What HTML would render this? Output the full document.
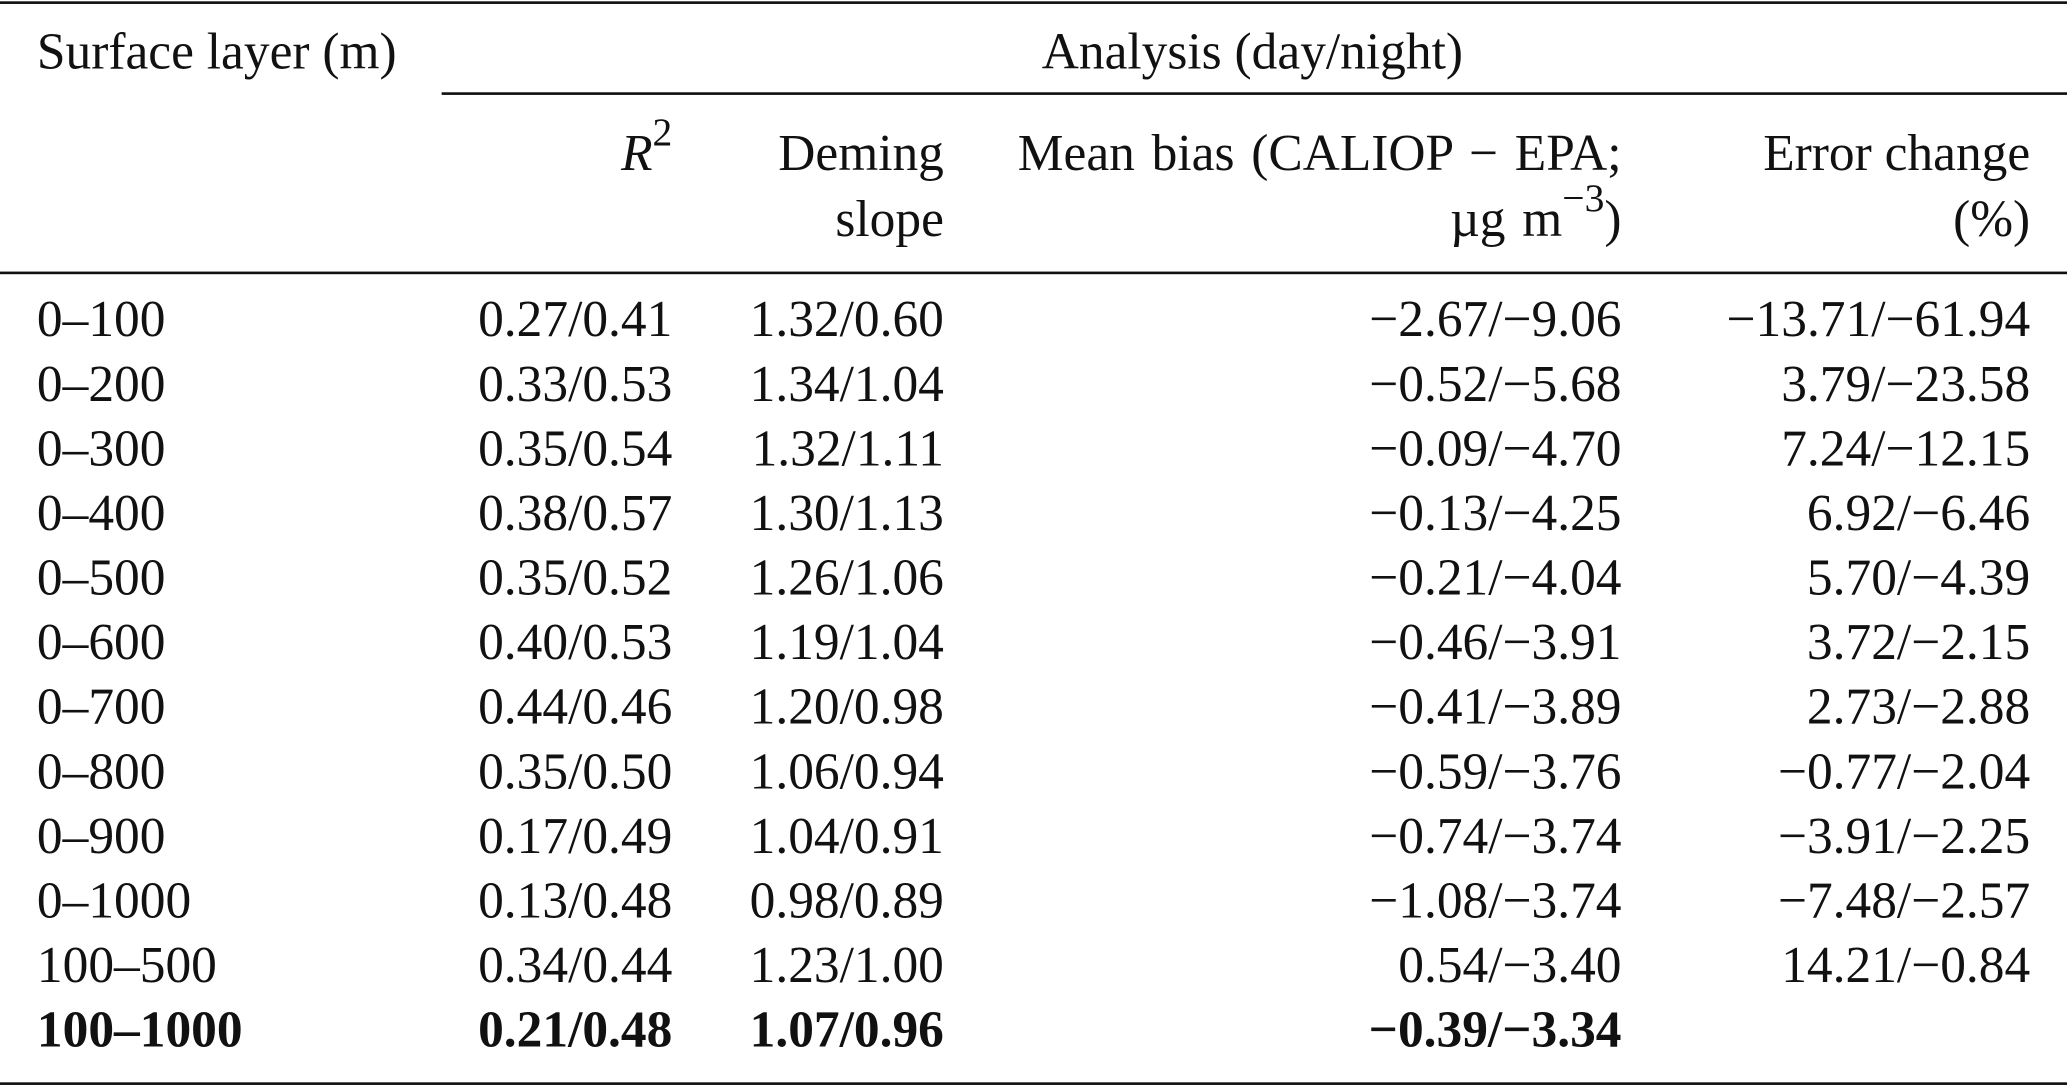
<!DOCTYPE html>
<html><head><meta charset="utf-8"><style>
html,body{margin:0;padding:0;background:#fff;width:2067px;height:1085px;overflow:hidden}
#wrap{position:absolute;left:0;top:0;width:1568px;height:824px;transform:scale(1.3183);transform-origin:0 0;font-family:"Liberation Serif",serif;font-size:39px;color:#111}
.t{position:absolute;line-height:39px;white-space:nowrap}
.r{text-align:right}
.rule{position:absolute;background:#111;height:2px}
sup{font-size:30px;line-height:0;position:relative;top:-5px}
</style></head><body>
<div id="wrap">
<div class="rule" style="left:0;width:1568px;top:1px"></div>
<div class="rule" style="left:335px;width:1233px;top:70px"></div>
<div class="rule" style="left:0;width:1568px;top:206px"></div>
<div class="rule" style="left:0;width:1568px;top:821px"></div>
<div class="t" style="left:28px;top:20px">Surface layer (m)</div>
<div class="t" style="left:750px;width:400px;text-align:center;top:20px">Analysis (day/night)</div>
<div class="t r" style="right:1058px;top:97px"><i>R</i><sup>2</sup></div>
<div class="t r" style="right:852px;top:97px">Deming<br><span style="display:inline-block;margin-top:11px">slope</span></div>
<div class="t r" style="right:338px;top:97px;word-spacing:3px">Mean bias (CALIOP − EPA;<br><span style="display:inline-block;margin-top:11px">µg m<sup>−3</sup>)</span></div>
<div class="t r" style="right:28px;top:97px">Error change<br><span style="display:inline-block;margin-top:11px">(%)</span></div>
<div id="body"></div>
</div>
<script>
const layers=["0–100","0–200","0–300","0–400","0–500","0–600","0–700","0–800","0–900","0–1000","100–500","100–1000"];
const r2=["0.27/0.41","0.33/0.53","0.35/0.54","0.38/0.57","0.35/0.52","0.40/0.53","0.44/0.46","0.35/0.50","0.17/0.49","0.13/0.48","0.34/0.44","0.21/0.48"];
const slope=["1.32/0.60","1.34/1.04","1.32/1.11","1.30/1.13","1.26/1.06","1.19/1.04","1.20/0.98","1.06/0.94","1.04/0.91","0.98/0.89","1.23/1.00","1.07/0.96"];
const bias=["−2.67/−9.06","−0.52/−5.68","−0.09/−4.70","−0.13/−4.25","−0.21/−4.04","−0.46/−3.91","−0.41/−3.89","−0.59/−3.76","−0.74/−3.74","−1.08/−3.74","0.54/−3.40","−0.39/−3.34"];
const err=["−13.71/−61.94","3.79/−23.58","7.24/−12.15","6.92/−6.46","5.70/−4.39","3.72/−2.15","2.73/−2.88","−0.77/−2.04","−3.91/−2.25","−7.48/−2.57","14.21/−0.84",""];
const wrap=document.getElementById('wrap');
const cols=[{a:layers,left:28,n:'layer'},{a:r2,right:1058,n:'r2'},{a:slope,right:852,n:'slope'},{a:bias,right:338,n:'bias'},{a:err,right:28,n:'error'}];
layers.forEach((_,i)=>{
  const top=223+49*i;
  cols.forEach(c=>{
    const d=document.createElement('div');
    d.className='t'+(c.right!==undefined?' r':'');
    
    
    d.style.top=top+'px';
    if(c.right!==undefined)d.style.right=c.right+'px';else d.style.left=c.left+'px';
    if(i===layers.length-1)d.style.fontWeight='bold';
    d.textContent=c.a[i];
    wrap.appendChild(d);
  });
});
</script>
</body></html>
